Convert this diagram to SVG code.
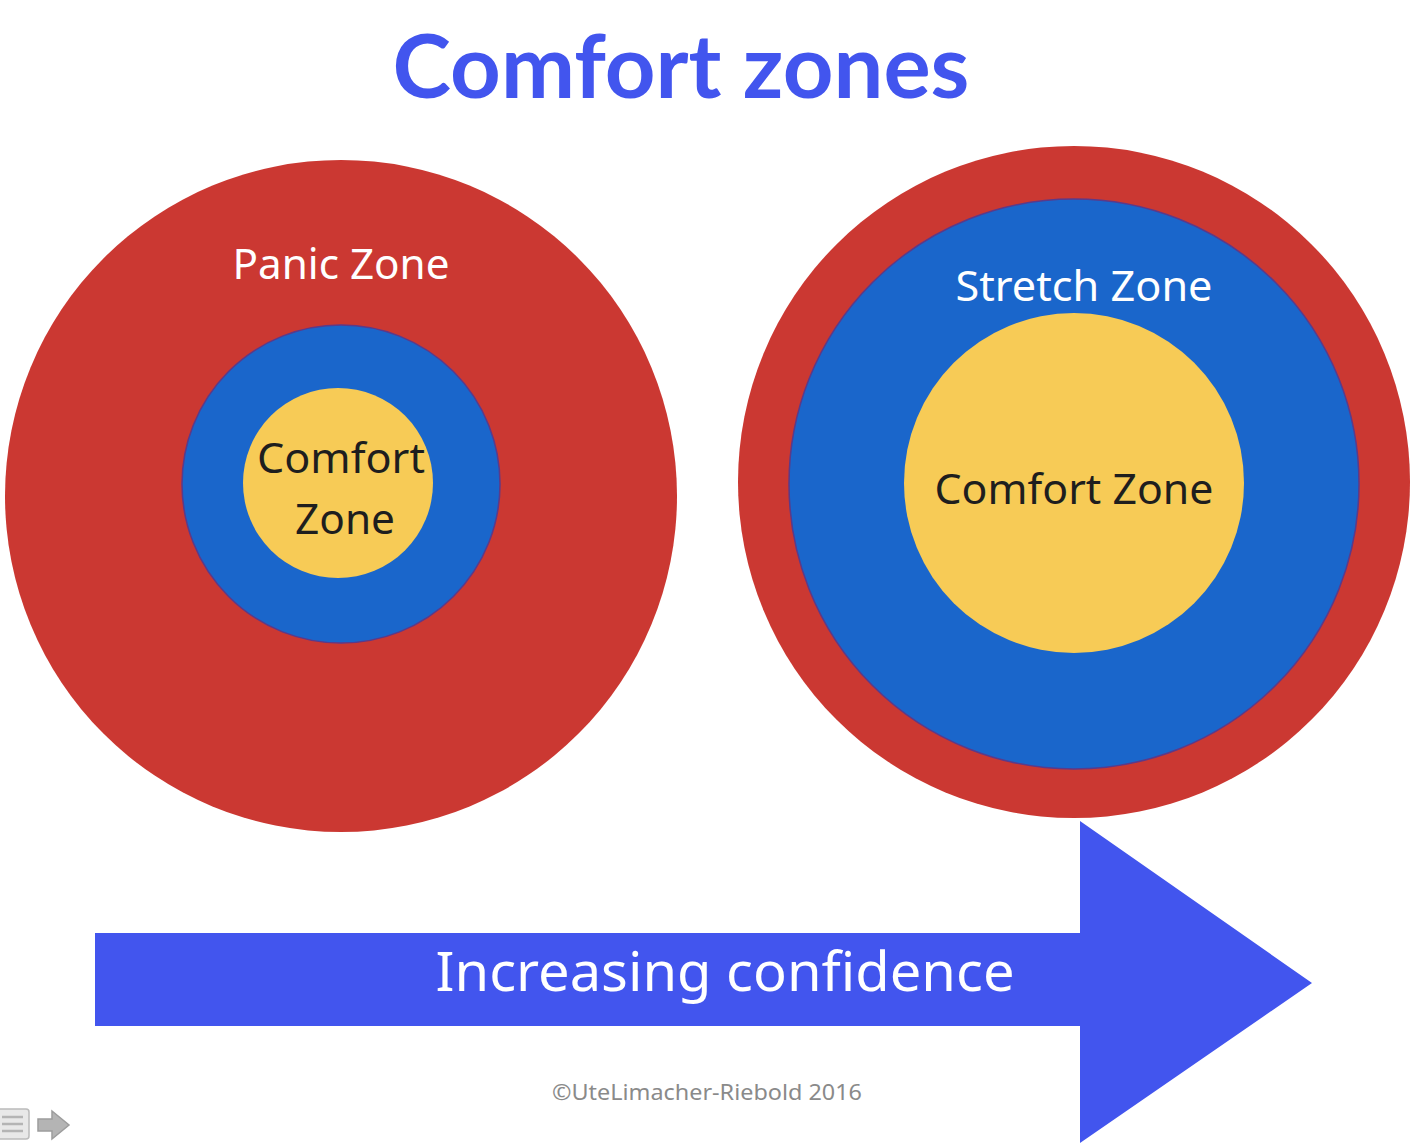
<svg xmlns="http://www.w3.org/2000/svg" width="1426" height="1146" viewBox="0 0 1426 1146">
<style>
.red{fill:#CB3832}
.blue{fill:#1A66CB;stroke:#5B3A8A;stroke-width:1.5}
.yellow{fill:#F7CB56}
.lbl{font-family:"Noto Sans","Open Sans","DejaVu Sans",sans-serif;text-anchor:middle}
.white{fill:#FFFFFF}
.dark{fill:#1E1E1E}
</style>
<rect width="1426" height="1146" fill="#FFFFFF"/>
<text x="681" y="98" font-family="Lato,'Liberation Sans',sans-serif" font-weight="bold" font-size="88" fill="#4255EE" text-anchor="middle" textLength="577" lengthAdjust="spacingAndGlyphs">Comfort zones</text>
<g id="left-zones">
<circle class="red" cx="341" cy="496" r="336"/>
<circle class="blue" cx="341" cy="484" r="159"/>
<circle class="yellow" cx="338" cy="483" r="95"/>
<text class="lbl white" x="341" y="279" font-size="42" textLength="217" lengthAdjust="spacingAndGlyphs">Panic Zone</text>
<text class="lbl dark" x="341" y="473" font-size="42" textLength="168" lengthAdjust="spacingAndGlyphs">Comfort</text>
<text class="lbl dark" x="345" y="534" font-size="42" textLength="100" lengthAdjust="spacingAndGlyphs">Zone</text>
</g>
<g id="right-zones">
<circle class="red" cx="1074" cy="482" r="336"/>
<circle class="blue" cx="1074" cy="484" r="285"/>
<circle class="yellow" cx="1074" cy="483" r="170"/>
<text class="lbl white" x="1084" y="301" font-size="42" textLength="257" lengthAdjust="spacingAndGlyphs">Stretch Zone</text>
<text class="lbl dark" x="1074" y="504" font-size="42" textLength="279" lengthAdjust="spacingAndGlyphs">Comfort Zone</text>
</g>
<g id="connectors">
<path id="confidence-arrow" d="M95 933 H1080 V821 L1312 983 L1080 1143 V1026 H95 Z" fill="#4255EE"/>
</g>
<text class="lbl white" x="725" y="991" font-size="54" textLength="579" lengthAdjust="spacingAndGlyphs">Increasing confidence</text>
<text class="lbl" x="707" y="1100" font-size="22" fill="#8A8A8A" textLength="310" lengthAdjust="spacingAndGlyphs">©UteLimacher-Riebold 2016</text>
<g id="nav-icons" opacity="0.85">
<rect x="-6" y="1109" width="35" height="30" rx="3" fill="#E4E4E4" stroke="#B0B0B0" stroke-width="1.5"/>
<path d="M2 1117 H23 M2 1124 H23 M2 1131 H23" stroke="#A8A8A8" stroke-width="2.5"/>
<path d="M38 1119 H52 V1111 L69 1125 L52 1139 V1131 H38 Z" fill="#A8A8A8" stroke="#8C8C8C" stroke-width="1.5"/>
</g>
</svg>
